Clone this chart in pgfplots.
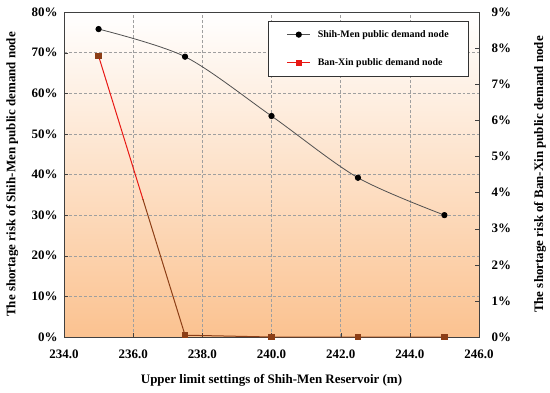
\documentclass[border=0pt]{standalone}
\usepackage{pgfplots}
\pgfplotsset{compat=1.18}
\usepackage{fontspec}
\setmainfont{Liberation Serif}
\definecolor{bgbot}{RGB}{251,194,144}
\definecolor{smgray}{RGB}{80,80,80}
\definecolor{bxred}{RGB}{232,24,20}
\definecolor{bxbrown}{RGB}{140,62,22}
\begin{document}
\begin{tikzpicture}
\path[use as bounding box] (0,0) rectangle (550bp,393bp);
\pgfplotsset{
  every axis/.append style={
    width=415bp, height=325bp, scale only axis,
    xmin=234, xmax=246,
    tick label style={font=\bfseries\fontsize{13}{15}\selectfont},
    label style={font=\bfseries\fontsize{13}{15}\selectfont},
  }
}
\begin{axis}[
  at={(64bp,56bp)}, anchor=south west,
  axis background/.style={shade, top color=white, bottom color=bgbot},
  ymin=0, ymax=80,
  ytick={0,10,...,80},
  yticklabels={0\%,10\%,20\%,30\%,40\%,50\%,60\%,70\%,80\%},
  xtick={234,236,...,246},
  xticklabels={234.0,236.0,238.0,240.0,242.0,244.0,246.0},
  xticklabel style={yshift=-9bp},
  yticklabel style={xshift=-3bp},
  grid=major,
  major grid style={densely dashed, gray!75, line width=0.5pt},
  ytick pos=left, xtick pos=bottom,
  tick align=inside,
  axis line style={black!75, line width=0.9pt},
  tick style={black!75},
  xlabel={Upper limit settings of Shih-Men Reservoir (m)},
  ylabel={The shortage risk of Shih-Men public demand node},
  xlabel style={at={(axis description cs:0.5,-0.132)}, anchor=center},
  ylabel style={at={(axis description cs:-0.125,0.5)}, anchor=center},
  clip=false,
]
\addplot[smgray, line width=0.8pt, smooth, mark=*, mark size=2.7pt, mark options={black, fill=black}]
  coordinates {(235,75.8) (237.5,69.0) (240,54.4) (242.5,39.2) (245,30.0)};
\end{axis}
\begin{axis}[
  at={(64bp,56bp)}, anchor=south west,
  ymin=0, ymax=9,
  ytick={0,1,...,9},
  yticklabels={0\%,1\%,2\%,3\%,4\%,5\%,6\%,7\%,8\%,9\%},
  yticklabel style={xshift=9bp},
  axis y line*=right,
  axis x line=none,
  tick align=inside,
  axis line style={black!75, line width=0.9pt},
  tick style={black!75},
  ylabel={The shortage risk of Ban-Xin public demand node},
  ylabel style={at={(axis description cs:1.147,0.5)}, anchor=center},
  legend style={at={(0.976,0.972)}, anchor=north east, draw=black!80, line width=0.7pt,
    font=\bfseries\fontsize{10}{12}\selectfont, row sep=16pt, column sep=5bp,
    inner xsep=18bp, inner ysep=7pt, fill=white},
  legend cell align=left,
  legend image code/.code={\draw[mark repeat=2,mark phase=2,#1] plot coordinates {(0bp,0bp) (11.5bp,0bp) (23bp,0bp)};},
  clip=false,
]
\addlegendimage{smgray, line width=0.8pt, mark=*, mark size=2.7pt, mark options={black, fill=black}}
\addlegendentry{Shih-Men public demand node\hspace{5bp}}
\addlegendimage{bxred, line width=1pt, mark=square*, mark size=2.6pt, mark options={bxred, fill=bxred}}
\addlegendentry{Ban-Xin public demand node}
\begin{scope}
\clip (axis cs:233,3.8) rectangle (axis cs:247,10);
\addplot[bxred, line width=1pt, mark=square*, mark size=2.6pt, mark options={bxred, fill=bxred}, forget plot]
  coordinates {(235,7.78) (237.5,0.05) (240,0) (242.5,0) (245,0)};
\end{scope}
\begin{scope}
\clip (axis cs:233,-1) rectangle (axis cs:247,3.8);
\addplot[bxbrown, line width=1pt, mark=square*, mark size=2.6pt, mark options={bxbrown, fill=bxbrown}, forget plot]
  coordinates {(235,7.78) (237.5,0.05) (240,0) (242.5,0) (245,0)};
\end{scope}
\end{axis}
\end{tikzpicture}
\end{document}
